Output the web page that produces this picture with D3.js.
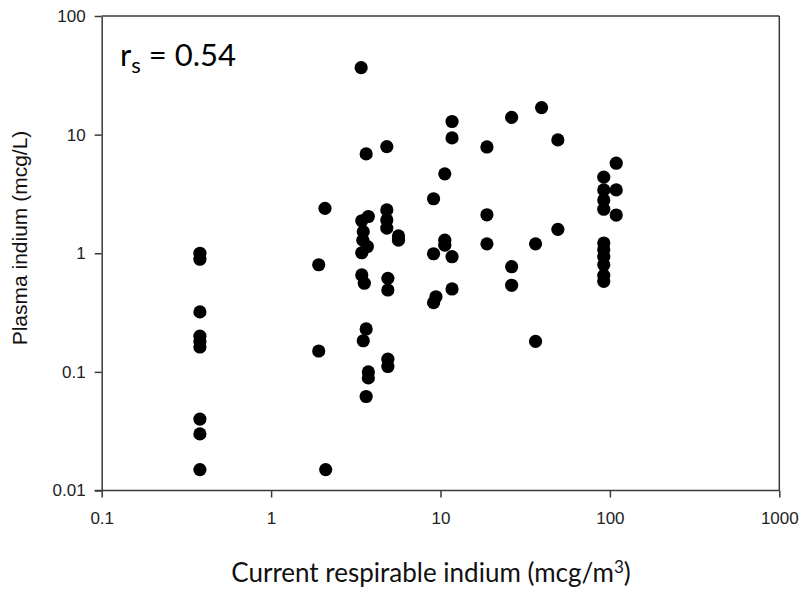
<!DOCTYPE html>
<html>
<head>
<meta charset="utf-8">
<script src="https://cdn.jsdelivr.net/npm/d3@7"></script>
<style>
body{margin:0;background:#fff;}
svg{display:block;}
</style>
</head>
<body>
<svg id="chart" width="805" height="594"></svg>
<script>
const xTicks = [0.1, 1, 10, 100, 1000];
const yTicks = [0.01, 0.1, 1, 10, 100];
const xTickLabels = ["0.1", "1", "10", "100", "1000"];
const yTickLabels = ["0.01", "0.1", "1", "10", "100"];

// current respirable indium (x) and plasma indium (y)
const respirable = [
  0.38,0.38,0.38,0.38,0.38,0.38,0.38,0.38,0.38,
  1.91,1.91,2.08,2.1,
  3.4,3.64,3.75,3.43,3.5,3.48,3.7,3.43,3.43,3.55,3.64,3.5,3.75,3.75,3.64,
  4.82,4.82,4.82,4.82,4.89,4.89,4.89,4.89,
  5.65,5.65,
  9.1,9.1,9.4,9.1,
  10.6,10.6,10.6,
  11.7,11.7,11.7,11.7,
  18.8,18.8,18.8,
  26.3,26.3,26.3,
  36.4,36.4,39.5,
  49.3,49.3,
  92,92,92,92,92,92,92,92,92,92,
  109,109,109
];
const plasma = [
  1.0,0.89,0.32,0.2,0.18,0.162,0.04,0.03,0.015,
  0.8,0.15,2.39,0.015,
  36.7,6.88,2.04,1.88,1.52,1.29,1.14,1.01,0.656,0.559,0.23,0.183,0.1,0.089,0.062,
  7.93,2.32,1.91,1.63,0.615,0.49,0.128,0.111,
  1.4,1.29,
  2.88,0.99,0.43,0.383,
  4.67,1.29,1.17,
  12.9,9.38,0.935,0.5,
  7.87,2.11,1.2,
  13.96,0.77,0.537,
  1.2,0.181,16.9,
  9.02,1.59,
  4.38,3.42,2.81,2.35,1.22,1.07,0.935,0.8,0.65,0.58,
  5.74,3.42,2.1
];

const svg = d3.select("#chart");
const pLeft = 101.7, pRight = 779.3, pTop = 16, pBottom = 490.5;

const x = d3.scaleLog().domain([0.1, 1000]).range([pLeft, pRight]);
const y = d3.scaleLog().domain([0.01, 100]).range([pBottom, pTop]);

const axisColor = "#3a3a3a";

// frame: top and right lines
svg.append("line").attr("x1", pLeft).attr("x2", pRight).attr("y1", pTop).attr("y2", pTop)
  .attr("stroke", axisColor).attr("stroke-width", 1.5);
svg.append("line").attr("x1", pRight).attr("x2", pRight).attr("y1", pTop).attr("y2", pBottom)
  .attr("stroke", axisColor).attr("stroke-width", 1.5);

const xAxis = d3.axisBottom(x).tickValues(xTicks)
  .tickFormat((d, i) => xTickLabels[i]).tickSizeInner(7).tickSizeOuter(0).tickPadding(14);
const yAxis = d3.axisLeft(y).tickValues(yTicks)
  .tickFormat((d, i) => yTickLabels[i]).tickSizeInner(7).tickSizeOuter(0).tickPadding(9);

const gx = svg.append("g").attr("transform", `translate(0,${pBottom})`).call(xAxis);
const gy = svg.append("g").attr("transform", `translate(${pLeft},0)`).call(yAxis);

[gx, gy].forEach(g => {
  g.selectAll("path").attr("stroke", axisColor).attr("stroke-width", 1.5);
  g.selectAll("line").attr("stroke", axisColor).attr("stroke-width", 1.5);
  g.selectAll("text").attr("fill", "#222")
    .style("font-family", "'Liberation Sans', Arial, sans-serif").style("font-size", "17px");
});
// extend x-axis path to the left to meet the y tick
gx.select("path").attr("d", `M${pLeft - 7},0H${pRight}`);

// points
svg.append("g").selectAll("circle")
  .data(respirable.map((v, i) => [v, plasma[i]]))
  .join("circle")
  .attr("cx", d => x(d[0]))
  .attr("cy", d => y(d[1]))
  .attr("r", 6.6)
  .attr("fill", "#000");

// annotation
const ann = svg.append("text").attr("x", 120).attr("y", 66)
  .style("font-family", "Lato, 'Open Sans', sans-serif").style("font-size", "31px").attr("fill", "#000");
ann.append("tspan").text("r");
ann.append("tspan").attr("dy", 7).style("font-size", "22px").text("s");
ann.append("tspan").attr("dy", -7).text(" = 0.54");

// axis titles
const xt = svg.append("text").attr("x", 431).attr("y", 582).attr("text-anchor", "middle")
  .style("font-family", "Lato, 'Open Sans', sans-serif").style("font-size", "26px").attr("fill", "#111");
xt.append("tspan").text("Current respirable indium (mcg/m");
xt.append("tspan").attr("dy", -9).style("font-size", "17px").text("3");
xt.append("tspan").attr("dy", 9).text(")");

svg.append("text").attr("transform", "translate(27,238) rotate(-90)").attr("text-anchor", "middle")
  .style("font-family", "'Liberation Sans', Arial, sans-serif").style("font-size", "21px").attr("fill", "#111")
  .text("Plasma indium (mcg/L)");
</script>
</body>
</html>
